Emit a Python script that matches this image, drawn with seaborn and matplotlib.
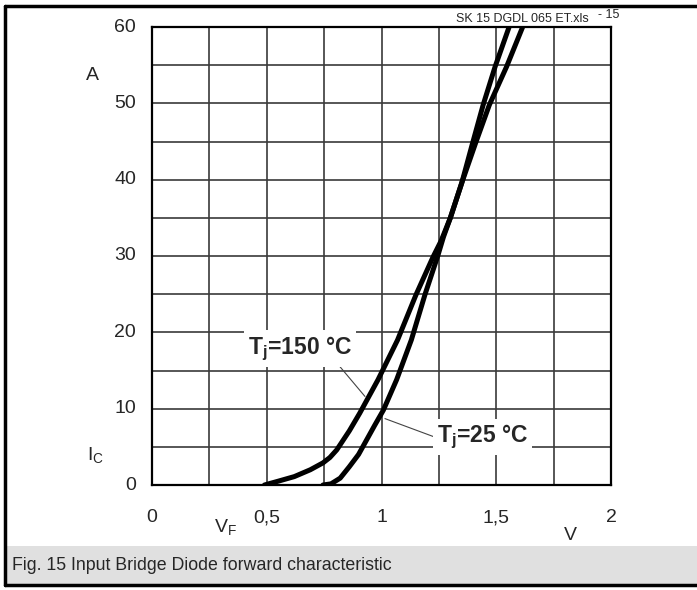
import pandas as pd
import numpy as np
import seaborn as sns
import matplotlib.pyplot as plt
from matplotlib.lines import Line2D
from matplotlib.patches import Rectangle

# Forward characteristic (V_F in V, I_C in A)
vf_150 = [0.49, 0.55, 0.62, 0.69, 0.745, 0.775, 0.805, 0.86, 0.905, 0.985,
          1.07, 1.15, 1.225, 1.26, 1.30, 1.35, 1.41, 1.47, 1.545, 1.615]
ic_150 = [0, 0.5, 1.1, 2.0, 2.9, 3.6, 4.6, 7.1, 9.4, 13.8,
          19, 24.9, 29.9, 32, 35, 39.6, 44.8, 49.8, 54.8, 60]

vf_25 = [0.745, 0.78, 0.82, 0.86, 0.90, 0.935, 0.97, 1.008, 1.066, 1.13,
         1.19, 1.245, 1.27, 1.30, 1.35, 1.397, 1.443, 1.495, 1.556]
ic_25 = [0, 0.15, 0.9, 2.4, 4.0, 5.9, 7.8, 9.8, 13.8, 19,
         25, 30, 32.5, 35, 39.6, 44.8, 49.8, 54.8, 60]

x_ticks = [0, 0.5, 1, 1.5, 2]
x_tick_labels = ['0', '0,5', '1', '1,5', '2']
y_ticks = [0, 10, 20, 30, 40, 50, 60]

data = pd.concat([
    pd.DataFrame({'VF': vf_150, 'IC': ic_150, 'Tj': '150'}),
    pd.DataFrame({'VF': vf_25, 'IC': ic_25, 'Tj': '25'}),
])

sns.set_style('white')
plt.rcParams['font.family'] = ['Liberation Sans', 'DejaVu Sans']
plt.rcParams['mathtext.fontset'] = 'custom'
plt.rcParams['mathtext.rm'] = 'Liberation Sans'
plt.rcParams['mathtext.it'] = 'Liberation Sans'
plt.rcParams['mathtext.bf'] = 'Liberation Sans:bold'

fig = plt.figure(figsize=(6.97, 5.90), dpi=100)
ax = fig.add_axes([152 / 697, 1 - 485 / 590, (611 - 152) / 697, (485 - 27) / 590])

for tj in ['150', '25']:
    sns.lineplot(data=data[data['Tj'] == tj], x='VF', y='IC', sort=False,
                 estimator=None, color='black', linewidth=3.6, ax=ax, zorder=3)

ax.set_xlim(0, 2)
ax.set_ylim(0, 60)
ax.set_xticks(np.arange(0, 2.01, 0.25))
ax.set_yticks(np.arange(0, 60.1, 5))
ax.grid(True, color='#3a3a3a', linewidth=1.2)
ax.set_xticklabels([])
ax.set_yticklabels([])
ax.tick_params(length=0)
for s in ax.spines.values():
    s.set_color('black')
    s.set_linewidth(1.6)
ax.set_xlabel('')
ax.set_ylabel('')

for x, lab in zip(x_ticks, x_tick_labels):
    ax.text(x, -4.3, lab, ha='center', va='center', fontsize=14)
for y in y_ticks:
    ax.text(-0.07, y, str(y), ha='right', va='center', fontsize=14)

fig.text(92 / 697, 1 - 75 / 590, 'A', ha='center', va='center', fontsize=14)
fig.text(95 / 697, 1 - 455 / 590, r'I$_\mathrm{C}$', ha='center', va='center', fontsize=14)
fig.text(225 / 697, 1 - 527 / 590, r'V$_\mathrm{F}$', ha='center', va='center', fontsize=14)
fig.text(570 / 697, 1 - 536 / 590, 'V', ha='center', va='center', fontsize=14)

# curve labels with leader lines
ax.plot([0.805, 0.928], [16.0, 11.6], color='#444444', linewidth=0.8, zorder=4)
ax.plot([1.015, 1.248], [8.7, 6.1], color='#444444', linewidth=0.8, zorder=4)
ax.text(0.645, 17.9, r'T$_\mathbf{j}$=150 °C', ha='center', va='center', fontsize=16.5,
        fontweight='bold', zorder=5,
        bbox=dict(facecolor='white', edgecolor='none', pad=3))
ax.text(1.44, 6.3, r'T$_\mathbf{j}$=25 °C', ha='center', va='center', fontsize=16.5,
        fontweight='bold', zorder=5,
        bbox=dict(facecolor='white', edgecolor='none', pad=3))

fig.text(522 / 697, 1 - 19 / 590, 'SK 15 DGDL 065 ET.xls', ha='center', va='center', fontsize=9)
fig.text(609 / 697, 1 - 15 / 590, '- 15', ha='center', va='center', fontsize=9)

# caption band and frame
fig.patches.append(Rectangle((7 / 697, 1 - 584 / 590), 690 / 697, 38 / 590,
                             transform=fig.transFigure, facecolor='#e0e0e0', edgecolor='none', zorder=0))
fig.text(12 / 697, 1 - 565 / 590, 'Fig. 15 Input Bridge Diode forward characteristic',
         ha='left', va='center', fontsize=12.8)
fig.add_artist(Line2D([5 / 697, 1], [1 - 6 / 590, 1 - 6 / 590], color='black', linewidth=2.5))
fig.add_artist(Line2D([5 / 697, 5 / 697], [1 - 6 / 590, 1 - 585 / 590], color='black', linewidth=2.5))
fig.add_artist(Line2D([5 / 697, 1], [1 - 585 / 590, 1 - 585 / 590], color='black', linewidth=2.5))

fig.savefig('out.png', dpi=100)
